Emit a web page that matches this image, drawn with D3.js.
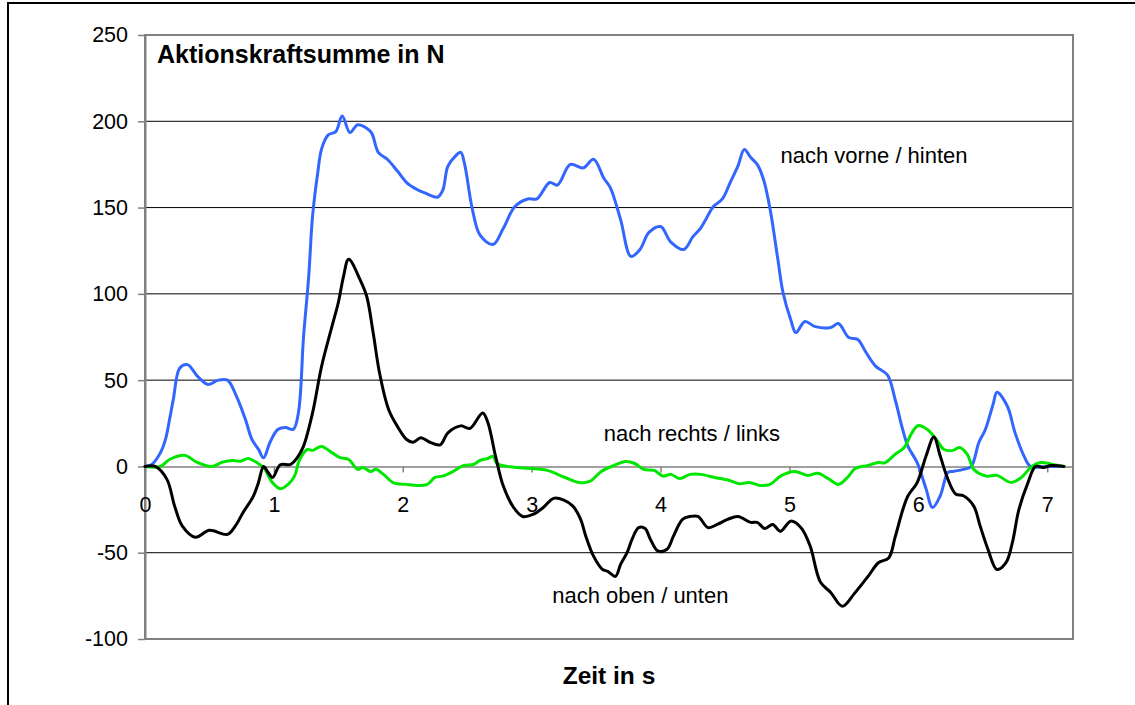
<!DOCTYPE html>
<meta charset="utf-8">
<style>
body { margin: 0; background: #fff; }
svg text { font-family: "Liberation Sans", Arial, sans-serif; fill: #000; }
</style>
<svg width="1135" height="705"></svg>
<script src="https://d3js.org/d3.v7.min.js"></script>
<script>
// Zeit in s, Kraft in N
var vorneHinten = [
  [0,0],[0.05,1],[0.12,8],[0.16,16],[0.19,27],[0.22,39],[0.27,57],[0.33,59],[0.41,52],[0.49,47.5],
  [0.57,50],[0.64,50],[0.71,40.6],[0.78,27],[0.83,15.6],[0.88,10],[0.92,5],[0.97,14],[1.03,21.4],
  [1.09,22.6],[1.15,21.5],[1.19,31],[1.23,75],[1.27,110],[1.30,145],[1.34,170],[1.37,184],[1.42,192],
  [1.48,194],[1.53,203],[1.59,193.5],[1.65,198],[1.72,196],[1.76,193],[1.81,182],[1.88,178],[1.96,171],
  [2.03,164.5],[2.11,160.5],[2.17,158.5],[2.27,156],[2.31,160],[2.35,174],[2.41,180],[2.45,182],
  [2.48,175],[2.54,149],[2.60,134],[2.70,128.6],[2.78,138],[2.87,150.6],[2.97,155],[3.04,155],
  [3.14,164.5],[3.20,163],[3.30,175],[3.40,173],[3.48,178],[3.56,167],[3.61,161.6],[3.69,143],
  [3.77,121.7],[3.84,125.7],[3.91,135.6],[4.00,139],[4.08,130],[4.18,125.7],[4.25,133],[4.31,138],
  [4.35,143],[4.41,150.6],[4.48,155],[4.54,164.5],[4.60,174],[4.65,183.7],[4.70,179],[4.75,175],
  [4.80,166],[4.85,149],[4.91,120],[4.95,100.8],[5.01,85],[5.05,77.6],[5.12,84],[5.20,81],[5.32,80.5],
  [5.38,82.8],[5.46,74.7],[5.53,73.6],[5.59,66.6],[5.67,58],[5.76,53],[5.82,38.8],[5.88,21],[5.92,11.6],
  [5.99,2.3],[6.06,-13],[6.11,-23.8],[6.17,-17],[6.23,-3.5],[6.27,-2.9],[6.35,-1.7],[6.41,0],[6.47,14],
  [6.52,21.4],[6.58,36],[6.61,43],[6.69,35],[6.75,19.6],[6.82,6],[6.87,0],[6.99,0],[7.13,0]
]

var rechtsLinks = [
  [0,0],[0.12,0],[0.19,4],[0.31,6.4],[0.40,2.5],[0.52,0],[0.60,2.5],[0.68,3.5],[0.74,3],[0.80,4.6],
  [0.87,2.1],[0.92,-0.6],[0.99,-9.5],[1.05,-12.9],[1.11,-10.4],[1.16,-5.6],[1.20,4],[1.26,9.8],
  [1.30,9.3],[1.37,11.6],[1.45,8],[1.51,5.2],[1.58,4],[1.65,-1.7],[1.69,-0.6],[1.75,-2.9],[1.79,-1.7],
  [1.85,-4.6],[1.93,-9.5],[2.03,-10.4],[2.11,-11],[2.19,-10.4],[2.25,-6.4],[2.31,-5.6],[2.39,-2.9],
  [2.47,0.5],[2.55,1.2],[2.60,3.5],[2.66,4.6],[2.70,5.8],[2.73,1.7],[2.81,0],[2.89,-0.6],[2.99,-1.2],
  [3.12,-2.3],[3.26,-6.4],[3.37,-9.3],[3.45,-8.7],[3.54,-2.9],[3.64,0.6],[3.73,2.9],[3.80,1.7],
  [3.87,-1.7],[3.95,-2.3],[4.02,-5.6],[4.08,-4.6],[4.15,-7],[4.23,-4.6],[4.31,-4.6],[4.42,-6.4],
  [4.53,-8],[4.61,-10],[4.69,-9.3],[4.77,-11],[4.85,-10.4],[4.93,-5.6],[5.04,-2.9],[5.14,-5.2],
  [5.22,-4],[5.30,-7],[5.38,-10.4],[5.45,-6.4],[5.51,-1.2],[5.61,0.6],[5.69,2.3],[5.74,2.1],[5.82,7],
  [5.89,11],[5.95,19.5],[6.00,23.7],[6.07,21.4],[6.14,15.6],[6.20,9.8],[6.27,9.3],[6.32,11],[6.38,7],
  [6.43,-1.7],[6.53,-5.6],[6.61,-5.2],[6.72,-9.3],[6.80,-6.4],[6.88,0],[6.95,2.3],[7.04,1.2],[7.13,0]
]

var obenUnten = [
  [0,0],[0.08,0],[0.17,-7.5],[0.23,-23],[0.29,-34.6],[0.39,-41],[0.50,-37],[0.64,-39.4],[0.70,-34.6],
  [0.76,-26.8],[0.84,-17.4],[0.88,-9.4],[0.92,0],[0.955,-3.5],[0.99,-6.4],[1.05,1],[1.13,1.2],[1.18,5],
  [1.23,11.8],[1.30,31],[1.37,58],[1.45,81],[1.50,95],[1.54,110],[1.58,120],[1.67,108],[1.72,98.6],
  [1.77,77.6],[1.82,54],[1.89,33],[1.96,23],[2.03,15.6],[2.08,14],[2.14,16.6],[2.21,14],[2.29,12.5],
  [2.35,19.5],[2.45,23.5],[2.52,22],[2.62,31],[2.66,25.5],[2.72,5.8],[2.78,-11.4],[2.86,-23.8],
  [2.93,-29],[3.01,-27.8],[3.09,-23.8],[3.17,-18.5],[3.25,-19.5],[3.32,-23],[3.38,-30.7],[3.42,-40.4],
  [3.48,-52],[3.55,-59.7],[3.59,-60.8],[3.65,-63.7],[3.69,-56.8],[3.74,-50],[3.78,-42],[3.83,-35.5],
  [3.88,-36],[3.92,-42],[3.98,-49],[4.05,-48],[4.10,-40.4],[4.17,-30.7],[4.23,-29],[4.29,-29],
  [4.37,-35.5],[4.44,-33.6],[4.52,-30.7],[4.60,-29],[4.70,-32.4],[4.75,-32.4],[4.81,-36],[4.87,-33.6],
  [4.93,-37.6],[5.01,-31.7],[5.09,-35.5],[5.16,-46],[5.24,-67],[5.32,-73],[5.41,-81],[5.50,-74],
  [5.61,-63.7],[5.69,-55.8],[5.77,-53],[5.82,-41],[5.88,-25],[5.92,-17],[5.99,-9.5],[6.06,6],[6.12,17],
  [6.17,6],[6.23,-7.5],[6.29,-16],[6.35,-17],[6.43,-23],[6.48,-34.6],[6.54,-48],[6.61,-59.7],
  [6.68,-55.8],[6.73,-44],[6.78,-25],[6.85,-9.5],[6.91,0],[6.97,-0.6],[7.03,0.5],[7.13,0]
]

var yTicks = [-100, -50, 0, 50, 100, 150, 200, 250]
var xTicks = [0, 1, 2, 3, 4, 5, 6, 7]

var svg = d3.select('svg')

// outer frame
svg.append('rect')
  .attr('x', 8).attr('y', 3).attr('width', 1200).attr('height', 800)
  .attr('fill', 'none').attr('stroke', '#000').attr('stroke-width', 2)

var x = d3.scaleLinear().domain([0, 7.2]).range([145, 1073])
var y = d3.scaleLinear().domain([-100, 250]).range([639, 35])

// gridlines
svg.append('g')
  .selectAll('line')
  .data(yTicks.filter(d => d !== 0 && d !== 250 && d !== -100))
  .enter().append('line')
  .attr('x1', x(0)).attr('x2', x(7.2))
  .attr('y1', d => y(d)).attr('y2', d => y(d))
  .attr('stroke', '#000').attr('stroke-width', 1)

// plot frame
svg.append('rect')
  .attr('x', x(0)).attr('y', y(250))
  .attr('width', x(7.2) - x(0)).attr('height', y(-100) - y(250))
  .attr('fill', 'none').attr('stroke', '#808080').attr('stroke-width', 2)

var yAxis = svg.append('g')
  .attr('transform', 'translate(' + x(0) + ',0)')
  .call(d3.axisLeft(y).tickValues(yTicks).tickSize(7).tickSizeOuter(0).tickPadding(10).tickFormat(d => String(d)))
yAxis.select('.domain').attr('stroke', '#808080').attr('stroke-width', 2)
yAxis.selectAll('.tick line').attr('stroke', '#808080').attr('stroke-width', 1.5)
yAxis.selectAll('text').attr('font-size', 21.5).attr('font-family', null)

var xAxis = svg.append('g')
  .attr('transform', 'translate(0,' + y(0) + ')')
  .call(d3.axisBottom(x).tickValues(xTicks).tickSize(6).tickSizeOuter(0).tickPadding(24).tickFormat(d => String(d)))
xAxis.select('.domain').attr('stroke', '#808080').attr('stroke-width', 1.5)
xAxis.selectAll('.tick line').attr('stroke', '#808080').attr('stroke-width', 1.5)
xAxis.selectAll('text').attr('font-size', 21.5).attr('font-family', null)

var line = d3.line()
  .x(d => x(d[0]))
  .y(d => y(d[1]))
  .curve(d3.curveCatmullRom.alpha(0.5))

var series = [
  { name: 'nach vorne / hinten', data: vorneHinten, colour: '#3366ff' },
  { name: 'nach rechts / links', data: rechtsLinks, colour: '#00e600' },
  { name: 'nach oben / unten', data: obenUnten, colour: '#000000' }
]

svg.append('g')
  .selectAll('path')
  .data(series)
  .enter().append('path')
  .attr('d', s => line(s.data))
  .attr('fill', 'none')
  .attr('stroke', s => s.colour)
  .attr('stroke-width', 3)
  .attr('stroke-linejoin', 'round')
  .attr('stroke-linecap', 'round')

// series labels
var labels = [
  { text: 'nach vorne / hinten', t: 4.93, v: 176 },
  { text: 'nach rechts / links', t: 3.56, v: 14.5 },
  { text: 'nach oben / unten', t: 3.16, v: -79 }
]
svg.append('g')
  .selectAll('text')
  .data(labels)
  .enter().append('text')
  .attr('x', d => x(d.t))
  .attr('y', d => y(d.v))
  .attr('font-size', 22)
  .text(d => d.text)

svg.append('text')
  .attr('x', 157).attr('y', 63)
  .attr('font-size', 25).attr('font-weight', 'bold')
  .text('Aktionskraftsumme in N')

svg.append('text')
  .attr('x', (x(0) + x(7.2)) / 2).attr('y', 684)
  .attr('text-anchor', 'middle')
  .attr('font-size', 24.5).attr('font-weight', 'bold')
  .text('Zeit in s')
</script>
